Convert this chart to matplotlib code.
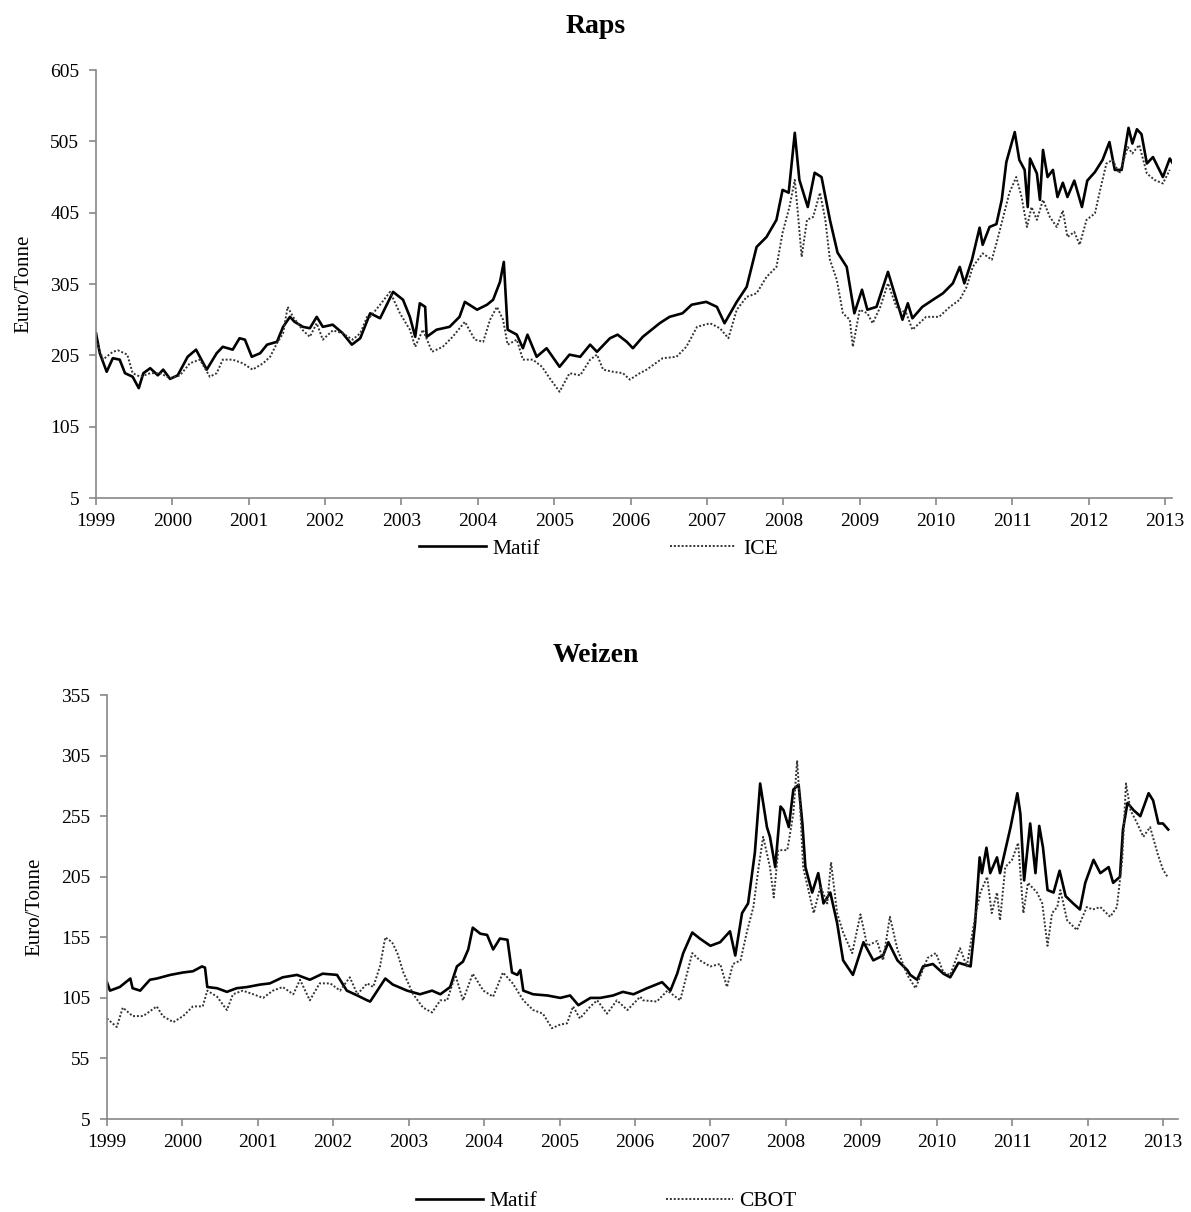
import matplotlib
matplotlib.use('Agg')
import matplotlib.pyplot as plt

plt.rcParams['font.family'] = ['Liberation Serif', 'DejaVu Serif']

# ---- Raps (rapeseed), Euro/Tonne ----
raps_matif_t = [
    1999.00, 1999.05, 1999.14, 1999.22, 1999.31, 1999.38, 1999.48, 1999.56, 1999.62, 1999.71,
    1999.81, 1999.88, 1999.97, 2000.07, 2000.20, 2000.31, 2000.45, 2000.58, 2000.66, 2000.79,
    2000.88, 2000.95, 2001.04, 2001.15, 2001.24, 2001.37, 2001.45, 2001.54, 2001.60, 2001.71,
    2001.80, 2001.89, 2001.97, 2002.10, 2002.23, 2002.35, 2002.46,
    2002.59, 2002.72, 2002.89, 2003.02, 2003.11, 2003.18, 2003.24, 2003.31, 2003.33, 2003.46,
    2003.63, 2003.76, 2003.83, 2003.99, 2004.12, 2004.20, 2004.29, 2004.34, 2004.39, 2004.51,
    2004.59, 2004.65, 2004.77, 2004.90, 2005.07, 2005.20, 2005.34, 2005.47, 2005.56, 2005.73,
    2005.83, 2005.95, 2006.03,
    2006.16, 2006.38, 2006.51, 2006.68, 2006.80, 2006.99, 2007.13, 2007.23, 2007.39, 2007.52,
    2007.65, 2007.78, 2007.91, 2007.99, 2008.07, 2008.15, 2008.21, 2008.32, 2008.41, 2008.50,
    2008.61, 2008.71, 2008.83, 2008.93, 2009.03, 2009.10, 2009.22, 2009.37, 2009.48, 2009.56,
    2009.63,
    2009.69, 2009.82, 2009.96, 2010.09, 2010.22, 2010.31, 2010.37, 2010.47, 2010.57, 2010.61,
    2010.70, 2010.79, 2010.86, 2010.92, 2011.03, 2011.09, 2011.16, 2011.20, 2011.23, 2011.32,
    2011.36, 2011.40, 2011.46, 2011.53, 2011.59, 2011.66, 2011.72, 2011.81, 2011.91, 2011.98,
    2012.08, 2012.18, 2012.27, 2012.34, 2012.43, 2012.52, 2012.57, 2012.63, 2012.69, 2012.76,
    2012.84, 2012.97, 2013.06, 2013.10]
raps_matif = [
    236, 208, 182, 201, 199, 180, 175, 159, 180, 187,
    177, 185, 172, 177, 203, 213, 185, 208, 217, 213,
    229, 227, 203, 208, 220, 224, 245, 259, 252, 245,
    243, 259, 245, 248, 236, 220, 229,
    264, 257, 294, 283, 259, 231, 278, 273, 231, 241,
    245, 259, 280, 269, 276, 283, 308, 336, 241, 234,
    215, 234, 203, 215, 189, 206, 203, 220, 210, 229,
    234, 224, 215,
    231, 250, 259, 264, 276, 280, 273, 250, 280, 301,
    357, 371, 395, 437, 433, 517, 451, 413, 461, 455,
    395, 349, 329, 264, 297, 269, 273, 322, 283, 255,
    278,
    257, 273, 283, 292, 306, 329, 306, 339, 384, 360,
    385, 389, 423, 476, 518, 479, 465, 413, 481, 460,
    423, 493, 455, 465, 427, 447, 427, 450, 413, 450,
    462, 479, 504, 465, 465, 524, 502, 522, 515, 474,
    483, 455, 481, 474]

raps_ice_t = [
    1999.00, 1999.09, 1999.22, 1999.29, 1999.41, 1999.48, 1999.58, 1999.71, 1999.84, 1999.97,
    2000.10, 2000.23, 2000.36, 2000.49, 2000.58, 2000.66, 2000.79, 2000.92, 2001.05, 2001.19,
    2001.28, 2001.37, 2001.45, 2001.51, 2001.58, 2001.71, 2001.80, 2001.89, 2001.97, 2002.10,
    2002.23, 2002.36, 2002.46, 2002.55,
    2002.59, 2002.72, 2002.85, 2002.98, 2003.11, 2003.18, 2003.28, 2003.40, 2003.54, 2003.67,
    2003.83, 2003.96, 2004.07, 2004.16, 2004.25, 2004.33, 2004.39, 2004.51, 2004.59, 2004.72,
    2004.84, 2004.94, 2005.07, 2005.20, 2005.34, 2005.47, 2005.56, 2005.64, 2005.77, 2005.90,
    2005.99, 2006.12,
    2006.21, 2006.42, 2006.60, 2006.73, 2006.87, 2007.04, 2007.17, 2007.28, 2007.39, 2007.52,
    2007.65, 2007.78, 2007.91, 2007.99, 2008.08, 2008.15, 2008.19, 2008.24, 2008.31, 2008.39,
    2008.48, 2008.55, 2008.61, 2008.70, 2008.78, 2008.87, 2008.91, 2009.00, 2009.10, 2009.17,
    2009.27, 2009.37, 2009.48, 2009.61,
    2009.69, 2009.87, 2010.04, 2010.18, 2010.31, 2010.40, 2010.48, 2010.61, 2010.73, 2010.79,
    2010.87, 2010.96, 2011.05, 2011.12, 2011.19, 2011.25, 2011.32, 2011.40, 2011.49, 2011.58,
    2011.66, 2011.72, 2011.81, 2011.88, 2011.97, 2012.08, 2012.14, 2012.23, 2012.31, 2012.40,
    2012.51, 2012.57, 2012.66, 2012.76, 2012.86, 2012.97, 2013.06]
raps_ice = [
    227, 199, 210, 212, 206, 180, 175, 180, 180, 173,
    177, 194, 199, 175, 180, 199, 199, 194, 185, 194,
    203, 222, 236, 273, 259, 240, 231, 250, 227, 240,
    236, 227, 236, 259,
    259, 276, 294, 264, 241, 217, 241, 210, 217, 231,
    252, 227, 224, 255, 273, 255, 220, 227, 199, 199,
    189, 173, 154, 180, 177, 199, 206, 185, 182, 180,
    171, 180,
    185, 201, 203, 217, 245, 250, 243, 229, 269, 287,
    292, 315, 329, 377, 413, 451, 405, 343, 395, 399,
    433, 395, 339, 311, 264, 255, 217, 269, 264, 250,
    273, 306, 273, 264,
    241, 259, 259, 273, 283, 301, 329, 348, 339, 362,
    395, 433, 455, 427, 385, 413, 395, 423, 399, 385,
    408, 371, 378, 360, 395, 404, 433, 474, 479, 460,
    497, 488, 500, 460, 451, 446, 465]

# ---- Weizen (wheat), Euro/Tonne ----
weizen_matif_t = [
    1999.00, 1999.04, 1999.17, 1999.31, 1999.34, 1999.44, 1999.57, 1999.66, 1999.84,
    2000.01, 2000.14, 2000.26, 2000.30, 2000.33, 2000.46, 2000.59, 2000.72, 2000.86,
    2001.03, 2001.16, 2001.33, 2001.52, 2001.69, 2001.86,
    2002.05, 2002.18, 2002.32, 2002.45,
    2002.49, 2002.69, 2002.79, 2002.98, 2003.15, 2003.31, 2003.42, 2003.55,
    2003.64, 2003.72, 2003.79, 2003.85, 2003.95, 2004.04, 2004.12, 2004.21, 2004.31, 2004.37,
    2004.44, 2004.48, 2004.52, 2004.65, 2004.84, 2005.01, 2005.14, 2005.25, 2005.41, 2005.54,
    2005.71, 2005.84, 2005.98,
    2006.16, 2006.36, 2006.47, 2006.56, 2006.64, 2006.76, 2006.86, 2007.00, 2007.13, 2007.26,
    2007.33, 2007.42, 2007.50, 2007.59, 2007.66, 2007.70, 2007.75, 2007.79, 2007.86, 2007.93,
    2007.97, 2008.04, 2008.10, 2008.17, 2008.22, 2008.26, 2008.35, 2008.43, 2008.50, 2008.59,
    2008.68, 2008.76, 2008.89, 2009.03, 2009.16, 2009.29, 2009.36, 2009.48, 2009.61,
    2009.65, 2009.74, 2009.82, 2009.95, 2010.09, 2010.18, 2010.29, 2010.45, 2010.51, 2010.57,
    2010.60, 2010.66, 2010.71, 2010.80, 2010.84, 2010.91, 2010.98, 2011.07, 2011.11, 2011.16,
    2011.24, 2011.31, 2011.36, 2011.41, 2011.47, 2011.55, 2011.63, 2011.71, 2011.81, 2011.90,
    2011.97, 2012.08, 2012.17, 2012.28, 2012.34, 2012.43, 2012.47, 2012.53, 2012.61, 2012.70,
    2012.81, 2012.87, 2012.94, 2013.00, 2013.07]
weizen_matif = [
    118, 111, 114, 121, 113, 111, 120, 121, 124,
    126, 127, 131, 130, 114, 113, 110, 113, 114,
    116, 117, 122, 124, 120, 125,
    124, 111, 107, 103,
    102, 121, 116, 111, 108, 111, 108, 114,
    131, 135, 145, 163, 158, 157, 145, 154, 153, 126,
    124, 128, 111, 108, 107, 105, 107, 99, 105, 105,
    107, 110, 108,
    113, 118, 111, 125, 142, 159, 154, 148, 151, 160,
    140, 175, 183, 225, 282, 266, 246, 238, 213, 263,
    260, 246, 277, 281, 249, 213, 192, 208, 183, 192,
    167, 136, 124, 151, 136, 140, 151, 136, 128,
    124, 120, 131, 133, 125, 122, 134, 131, 167, 221,
    208, 229, 208, 221, 208, 227, 246, 274, 257, 202,
    249, 208, 247, 229, 194, 192, 210, 189, 183, 178,
    200, 219, 208, 213, 200, 205, 244, 266, 260, 255,
    274, 268, 249, 249, 244]

weizen_cbot_t = [
    1999.00, 1999.13, 1999.21, 1999.34, 1999.48, 1999.66, 1999.74, 1999.88, 2000.01, 2000.14,
    2000.27, 2000.33, 2000.46, 2000.59, 2000.67, 2000.80, 2000.94, 2001.07, 2001.20, 2001.33,
    2001.47, 2001.56, 2001.69, 2001.82, 2001.96, 2002.09, 2002.22, 2002.32, 2002.45,
    2002.53, 2002.62, 2002.69, 2002.78, 2002.85, 2002.93, 2003.06, 2003.19, 2003.31, 2003.42,
    2003.51, 2003.62, 2003.72, 2003.85, 2003.99, 2004.12, 2004.25, 2004.38, 2004.52, 2004.65,
    2004.78, 2004.90, 2005.01, 2005.10, 2005.18, 2005.27, 2005.41, 2005.50, 2005.63, 2005.76,
    2005.90, 2006.07,
    2006.11, 2006.29, 2006.43, 2006.60, 2006.67, 2006.76, 2006.86, 2007.00, 2007.13, 2007.22,
    2007.30, 2007.40, 2007.49, 2007.57, 2007.64, 2007.70, 2007.79, 2007.84, 2007.90, 2008.02,
    2008.10, 2008.15, 2008.19, 2008.23, 2008.33, 2008.37, 2008.46, 2008.55, 2008.60, 2008.68,
    2008.76, 2008.88, 2008.99, 2009.08, 2009.21, 2009.29, 2009.38, 2009.48, 2009.61,
    2009.72, 2009.88, 2009.99, 2010.09, 2010.18, 2010.31, 2010.40, 2010.51, 2010.58, 2010.67,
    2010.73, 2010.80, 2010.84, 2010.91, 2011.00, 2011.08, 2011.15, 2011.21, 2011.33, 2011.40,
    2011.47, 2011.53, 2011.60, 2011.64, 2011.73, 2011.86, 2011.99, 2012.07, 2012.17, 2012.30,
    2012.39, 2012.46, 2012.51, 2012.57, 2012.66, 2012.74, 2012.83, 2012.93, 2013.00, 2013.06]
weizen_cbot = [
    88, 81, 97, 90, 90, 98, 90, 85, 90, 98,
    98, 111, 106, 95, 108, 111, 108, 105, 111, 114,
    108, 120, 103, 117, 117, 111, 122, 108, 117,
    114, 131, 155, 151, 142, 126, 108, 97, 93, 103,
    103, 124, 103, 125, 111, 106, 126, 117, 103, 95,
    92, 80, 83, 84, 98, 88, 98, 103, 92, 103,
    95, 106,
    103, 102, 111, 103, 120, 142, 136, 131, 133, 114,
    133, 136, 161, 180, 213, 238, 213, 188, 227, 227,
    257, 301, 263, 213, 186, 175, 197, 183, 217, 175,
    159, 142, 174, 148, 152, 136, 172, 145, 124,
    113, 138, 142, 126, 124, 146, 131, 172, 192, 205,
    175, 192, 169, 213, 219, 233, 175, 200, 192, 183,
    148, 175, 180, 194, 169, 161, 180, 178, 180, 172,
    180, 219, 282, 260, 249, 238, 246, 224, 211, 205]

years = list(range(1999, 2014))
raps_yticks = [5, 105, 205, 305, 405, 505, 605]
weizen_yticks = [5, 55, 105, 155, 205, 255, 305, 355]

axis_grey = '#888888'

fig = plt.figure(figsize=(11.91, 12.12), dpi=100)
ax1 = fig.add_axes([0.0806, 0.5891, 0.9035, 0.3531])
ax2 = fig.add_axes([0.0898, 0.0767, 0.8993, 0.3498])


def style_axes(ax, yticks, xmax):
    ax.set_xlim(1999, xmax)
    ax.set_ylim(yticks[0], yticks[-1])
    ax.set_xticks(years)
    ax.set_xticklabels([str(y) for y in years])
    ax.set_yticks(yticks)
    for side in ['top', 'right']:
        ax.spines[side].set_visible(False)
    for side in ['left', 'bottom']:
        ax.spines[side].set_color(axis_grey)
        ax.spines[side].set_linewidth(1.2)
    ax.tick_params(direction='out', length=5, width=1.2, color=axis_grey,
                   labelsize=14, labelcolor='black')
    ax.tick_params(axis='x', pad=6)
    ax.tick_params(axis='y', pad=7)
    ax.set_ylabel('Euro/Tonne', fontsize=15, labelpad=12)


# top panel
ax1.plot(raps_matif_t, raps_matif, color='black', lw=1.9, label='Matif')
ax1.plot(raps_ice_t, raps_ice, color='#333333', lw=1.4, ls=(0, (1, 1)), label='ICE')
style_axes(ax1, raps_yticks, 2013.09)
fig.text(0.5, 0.978, 'Raps', ha='center', va='center', fontsize=20, fontweight='bold')
ax1.legend(loc='upper center', bbox_to_anchor=(0.467, -0.05), ncol=2, frameon=False,
           fontsize=15.5, handlelength=3.1, handletextpad=0.3, columnspacing=6.0)

# bottom panel
ax2.plot(weizen_matif_t, weizen_matif, color='black', lw=1.9, label='Matif')
ax2.plot(weizen_cbot_t, weizen_cbot, color='#333333', lw=1.4, ls=(0, (1, 1)), label='CBOT')
style_axes(ax2, weizen_yticks, 2013.2)
fig.text(0.5, 0.459, 'Weizen', ha='center', va='center', fontsize=20, fontweight='bold')
ax2.legend(loc='upper center', bbox_to_anchor=(0.466, -0.125), ncol=2, frameon=False,
           fontsize=15.5, handlelength=3.1, handletextpad=0.3, columnspacing=6.0)

fig.savefig('out.png', dpi=100)
